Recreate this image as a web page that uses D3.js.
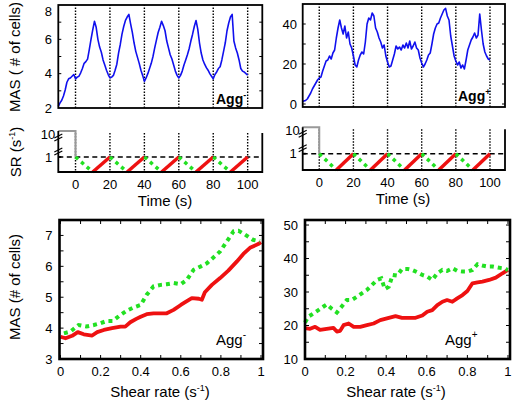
<!DOCTYPE html>
<html><head><meta charset="utf-8">
<script src="https://cdn.jsdelivr.net/npm/d3@7"></script>
<style>
body{margin:0;background:#fff}
svg{display:block}
text{font-family:"Liberation Sans",Arial,Helvetica,sans-serif;fill:#000}
</style>
</head><body>
<svg id="c" width="514" height="401"></svg>
<script>
// ---------- DATA ----------
const timeGrid = d3.range(-10, 101, 1); // sampling times (s)
const masAggMinus = [2.1,2.3,2.45,2.7,3.05,3.5,3.7,3.75,3.85,3.95,
 3.7,3.8,3.85,4.05,4.3,4.6,4.7,4.85,5.4,6.0,
 6.55,7.05,6.7,6.0,5.55,5.25,4.8,4.5,4.2,3.95,
 3.75,3.8,3.9,4.2,4.55,5.2,5.7,6.3,6.75,7.1,
 7.3,7.45,6.9,6.4,5.8,5.3,4.95,4.6,4.2,3.9,
 3.55,3.75,4.0,4.3,4.6,5.0,5.5,5.95,6.4,6.7,
 7.05,6.8,6.5,5.9,5.5,5.1,4.85,4.5,4.15,3.9,
 3.75,3.9,4.15,4.5,4.8,5.1,5.45,5.9,6.3,6.75,
 7.1,6.6,5.8,5.2,4.8,4.55,4.35,4.2,4.0,3.85,
 3.7,3.95,4.1,4.3,4.4,4.8,5.3,5.8,6.5,6.95,
 7.3,7.45,5.9,5.5,5.2,4.8,4.3,4.15,4.1,4.0,3.92];
const masAggPlus = [1.2,1.5,1.8,2.5,4,5.5,7.5,9,10.5,12,
 13,13.5,16.5,19,21.5,22,24,22.5,25.5,27,
 33,38,42,38,35,39,33,36,30,28,
 24,19.5,18.5,22,24.5,26,25,31,40,43,
 42,45.5,44,38,36,33,31,28,29.5,24,
 21,18.5,19,22,25,29,27.5,28.5,27,29.5,
 28,30.5,28,31.5,27.5,29,31,28,27,23,
 20.5,18.5,20,22,24.5,25.5,30,35,38,40,
 40.5,43,45,47,47.8,44,42,34,29,24,
 21.5,19.5,21,18,19.5,17.5,22,27,29.5,32,
 33.5,35.5,33,34.5,45,37,30,26,24,22.5,22];

const srTimes  = [0,10,20,30,40,50,60,70,80,90,100];
const srValues = [1,0,1,0,1,0,1,0,1,0,1];
const preTimes  = [-10,0,0];
const preValues = [10,10,1];
const cycleTicks = [0,20,40,60,80,100];

const shearRedMinus = [0,0.025,0.058,0.086,0.116,0.158,0.183,0.216,0.257,0.3,0.323,0.348,0.378,0.4,0.43,0.464,0.5,0.53,0.564,0.6,0.622,0.655,0.69,0.705,0.72,0.755,0.796,0.837,0.88,0.912,0.945,0.986,1.0];
const masRedMinus   = [3.72,3.67,3.75,3.87,3.8,3.76,3.87,3.94,4.0,4.05,4.05,4.19,4.3,4.37,4.45,4.48,4.48,4.48,4.59,4.75,4.84,4.97,4.95,4.92,5.16,5.4,5.62,5.86,6.16,6.4,6.6,6.72,6.78];
const shearGreenMinus = [0.017,0.05,0.09,0.13,0.166,0.2,0.23,0.26,0.3,0.33,0.365,0.4,0.43,0.464,0.5,0.53,0.564,0.6,0.63,0.664,0.7,0.73,0.76,0.796,0.83,0.863,0.888,0.92,0.96,0.995];
const masGreenMinus   = [3.83,3.89,4.1,4.05,4.1,4.16,4.23,4.23,4.43,4.56,4.67,4.75,5.08,5.35,5.4,5.42,5.46,5.42,5.56,5.89,6.0,6.1,6.27,6.48,6.81,7.13,7.15,7.03,6.86,6.81];

const shearRedPlus = [0,0.025,0.05,0.074,0.107,0.14,0.157,0.173,0.19,0.215,0.24,0.272,0.305,0.338,0.371,0.413,0.446,0.478,0.511,0.545,0.578,0.602,0.627,0.652,0.677,0.7,0.726,0.75,0.776,0.8,0.825,0.85,0.874,0.907,0.94,0.973,1.0];
const masRedPlus   = [19.2,19,19.6,18.7,19,19.3,18.2,18.4,20.1,20.6,19.6,19.6,20.1,20.6,21.6,22.3,22.8,22.3,22.3,22.3,23,24.1,24.6,26.1,27.1,27.6,27.1,28.1,29.1,30.3,32.6,32.9,33.1,33.6,34.3,35.6,36.6];
const shearGreenPlus = [0,0.016,0.041,0.066,0.09,0.107,0.132,0.157,0.18,0.206,0.23,0.256,0.28,0.305,0.33,0.355,0.376,0.393,0.413,0.432,0.454,0.478,0.503,0.528,0.553,0.578,0.602,0.627,0.652,0.677,0.7,0.726,0.75,0.776,0.8,0.825,0.85,0.874,0.9,0.924,0.95,0.973,1.0];
const masGreenPlus   = [20.9,22.6,23.6,24.6,25.6,26.3,25,23.9,25.6,27.6,27.6,28.6,29.6,30.6,32.1,33.6,34.1,30.9,31.6,35.1,34.9,36.9,36.9,36.6,35.9,35.1,34.6,33.6,35.6,36.6,36.3,37.1,36.3,36.1,36.1,36.6,38.3,37.9,37.6,37.6,37.3,37.1,36.6];

const yTicksTL = [2,4,6,8];
const yTicksTR = [0,20,40];
const xTicksShear = [0,0.2,0.4,0.6,0.8,1];
const yTicksBL = [3,4,5,6,7];
const yTicksBR = [10,20,30,40,50];

// ---------- DRAW ----------
const svg = d3.select("#c");
const BLUE = "#1010ee", RED = "#ee1111", GREEN = "#22e022", GRAY = "#999";

function axisLabelsY(sc, ticks, x, size, minY) {
  ticks.forEach(t => svg.append("text").attr("x", x).attr("y", Math.max(sc(t), minY || 0)).attr("dy", "0.36em")
    .attr("text-anchor", "end").attr("font-size", size).text(t));
}
function frameTicks(x, y, xt, yt, len, sw) {
  const [x0, x1] = x.range(), [y0, y1] = y.range();
  const g = svg.append("g").attr("stroke", "#000").attr("stroke-width", 1);
  (yt || []).forEach(t => {
    g.append("line").attr("x1", x0).attr("x2", x0 + len).attr("y1", y(t)).attr("y2", y(t));
    g.append("line").attr("x1", x1).attr("x2", x1 - len).attr("y1", y(t)).attr("y2", y(t));
  });
  (xt || []).forEach(t => {
    g.append("line").attr("y1", y0).attr("y2", y0 - len).attr("x1", x(t)).attr("x2", x(t));
    g.append("line").attr("y1", y1).attr("y2", y1 + len).attr("x1", x(t)).attr("x2", x(t));
  });
  svg.append("rect").attr("x", Math.min(x0, x1)).attr("y", Math.min(y0, y1))
    .attr("width", Math.abs(x1 - x0)).attr("height", Math.abs(y1 - y0))
    .attr("fill", "none").attr("stroke", "#000").attr("stroke-width", sw);
}

// --- top panels
function topPanel(x, y, data, yt, ytMinor, labelX, aggX, aggY, aggSign) {
  const [y0, y1] = y.range();
  cycleTicks.forEach(t => svg.append("line").attr("x1", x(t)).attr("x2", x(t))
    .attr("y1", y0).attr("y2", y1).attr("stroke", "#000").attr("stroke-width", 1.4)
    .attr("stroke-dasharray", "1.5,1.5"));
  const line = d3.line().x((d, i) => x(timeGrid[i])).y(d => y(d));
  svg.append("path").datum(data).attr("d", line).attr("fill", "none")
    .attr("stroke", BLUE).attr("stroke-width", 1.6).attr("stroke-linejoin", "round");
  frameTicks(x, y, null, ytMinor, 3, 1.8);
  axisLabelsY(y, yt, labelX, 13, 11);
  const t = svg.append("text").attr("x", aggX).attr("y", aggY).attr("font-size", 14)
    .attr("font-weight", "bold");
  t.append("tspan").text("Agg");
  t.append("tspan").attr("font-size", 9).attr("dy", -6).text(aggSign);
}
const xTL = d3.scaleLinear([-10, 108.5], [58.3, 262.3]);
const yTL = d3.scaleLinear([2, 8], [108, 5]);
const xTR = d3.scaleLinear([-9.7, 108.8], [302.7, 505]);
const yTR = d3.scaleLinear([-1.5, 50], [107, 4]);
topPanel(xTL, yTL, masAggMinus, yTicksTL, [3,4,5,6,7], 52, 216, 104, "-");
topPanel(xTR, yTR, masAggPlus, yTicksTR, [0,10,20,30,40], 297, 458, 101, "+");

// --- SR panels
function srPanel(x, y, labX) {
  const xl = x.range()[0], xr = x.range()[1];
  const yb = y(0), y1 = y(1), y10 = y(10);
  cycleTicks.forEach(t => svg.append("line").attr("x1", x(t)).attr("x2", x(t))
    .attr("y1", y10 + 2).attr("y2", yb).attr("stroke", "#000").attr("stroke-width", 1.4)
    .attr("stroke-dasharray", "1.5,1.5"));
  svg.append("line").attr("x1", xl).attr("x2", xr).attr("y1", y1).attr("y2", y1)
    .attr("stroke", "#000").attr("stroke-width", 1.6).attr("stroke-dasharray", "5,3.5");
  svg.append("path").datum(preTimes.map((t, i) => [t, preValues[i]]))
    .attr("d", d3.line().x(d => x(d[0])).y(d => y(d[1])))
    .attr("fill", "none").attr("stroke", GRAY).attr("stroke-width", 2);
  for (let i = 0; i < srTimes.length - 1; i++) {
    const seg = [[srTimes[i], srValues[i]], [srTimes[i + 1], srValues[i + 1]]];
    const down = srValues[i] > srValues[i + 1];
    svg.append("path").datum(seg).attr("d", d3.line().x(d => x(d[0])).y(d => y(d[1])))
      .attr("fill", "none").attr("stroke", down ? GREEN : RED)
      .attr("stroke-width", 3.5)
      .attr("stroke-dasharray", down ? "3.5,4" : null);
  }
  const g = svg.append("g").attr("stroke", "#000").attr("stroke-width", 1.8).attr("fill", "none");
  g.append("path").attr("d", `M${xl},${y10}V${yb}H${xr}V${y10 + 2}`);
  g.append("line").attr("x1", xl).attr("x2", xl + 3).attr("y1", y1).attr("y2", y1);
  [y10 + 5, y1 - 7].forEach(yy => {
    [0, 3].forEach(o => g.append("line").attr("stroke-width", 1.2)
      .attr("x1", xl - 4).attr("x2", xl + 4).attr("y1", yy + o + 2).attr("y2", yy + o - 2));
  });
  svg.append("text").attr("x", xl - 3).attr("y", y10 + 3).attr("dy", "0.36em").attr("text-anchor", "end")
    .attr("font-size", 13).text("10");
  svg.append("text").attr("x", xl - 6).attr("y", y1).attr("dy", "0.36em").attr("text-anchor", "end")
    .attr("font-size", 13).text("1");
  cycleTicks.forEach(t => svg.append("text").attr("x", x(t)).attr("y", yb + 16.5)
    .attr("text-anchor", "middle").attr("font-size", 13).text(t));
  svg.append("text").attr("x", labX).attr("y", yb + 34).attr("text-anchor", "middle")
    .attr("font-size", 15).text("Time (s)");
}
const ySRL = d3.scaleLinear([0, 1, 10], [172, 157, 131]);
const ySRR = d3.scaleLinear([0, 1, 10], [170, 153.7, 127.3]);
srPanel(xTL, ySRL, 165);
srPanel(xTR, ySRR, 403);

// --- bottom panels
function bottomPanel(x, y, sr, mr, sg, mg, yt, yMinor, labX, aggX, aggSign) {
  svg.append("path").datum(sr.map((s, i) => [s, mr[i]]))
    .attr("d", d3.line().x(d => x(d[0])).y(d => y(d[1])))
    .attr("fill", "none").attr("stroke", RED).attr("stroke-width", 3.8).attr("stroke-linejoin", "round");
  svg.append("path").datum(sg.map((s, i) => [s, mg[i]]))
    .attr("d", d3.line().x(d => x(d[0])).y(d => y(d[1])))
    .attr("fill", "none").attr("stroke", GREEN).attr("stroke-width", 4).attr("stroke-dasharray", "4,4");
  frameTicks(x, y, d3.range(0, 11).map(v => v / 10), yMinor, 4, 2.6);
  axisLabelsY(y, yt, x.range()[0] - 7, 13, 0);
  const yb = y.range()[0];
  xTicksShear.forEach(t => svg.append("text").attr("x", x(t)).attr("y", yb + 16.5)
    .attr("text-anchor", "middle").attr("font-size", 13).text(t));
  const lab = svg.append("text").attr("x", labX).attr("y", yb + 38).attr("text-anchor", "middle")
    .attr("font-size", 15);
  lab.append("tspan").text("Shear rate (s");
  lab.append("tspan").attr("font-size", 9).attr("dy", -6).text("-1");
  lab.append("tspan").attr("dy", 6).text(")");
  const a = svg.append("text").attr("x", aggX).attr("y", 345).attr("font-size", 15);
  a.append("tspan").text("Agg");
  a.append("tspan").attr("font-size", 10).attr("dy", -7).text(aggSign);
}
const xBL = d3.scaleLinear([-0.005, 1.01], [59.5, 263]);
const yBL = d3.scaleLinear([3, 7.5], [359, 220]);
const xBR = d3.scaleLinear([0, 1.01], [305, 510]);
const yBR = d3.scaleLinear([10, 51.5], [359, 220]);
bottomPanel(xBL, yBL, shearRedMinus, masRedMinus, shearGreenMinus, masGreenMinus,
  yTicksBL, [3,3.5,4,4.5,5,5.5,6,6.5,7], 160, 216, "-");
bottomPanel(xBR, yBR, shearRedPlus, masRedPlus, shearGreenPlus, masGreenPlus,
  yTicksBR, [10,15,20,25,30,35,40,45,50], 396, 445, "+");

// --- y axis titles
function yTitle(cx, cy, parts) {
  const t = svg.append("text").attr("transform", `translate(${cx},${cy}) rotate(-90)`)
    .attr("text-anchor", "middle").attr("dy", "0.36em").attr("font-size", 15);
  parts.forEach(p => {
    const s = t.append("tspan").text(p.t);
    if (p.sup) s.attr("font-size", 9).attr("dy", -6);
    if (p.back) s.attr("dy", 6);
  });
}
yTitle(15, 57, [{t: "MAS ( # of cells)"}]);
yTitle(16, 152, [{t: "SR (s"}, {t: "-1", sup: true}, {t: ")", back: true}]);
yTitle(15, 287, [{t: "MAS (# of cells)"}]);
</script>
</body></html>
